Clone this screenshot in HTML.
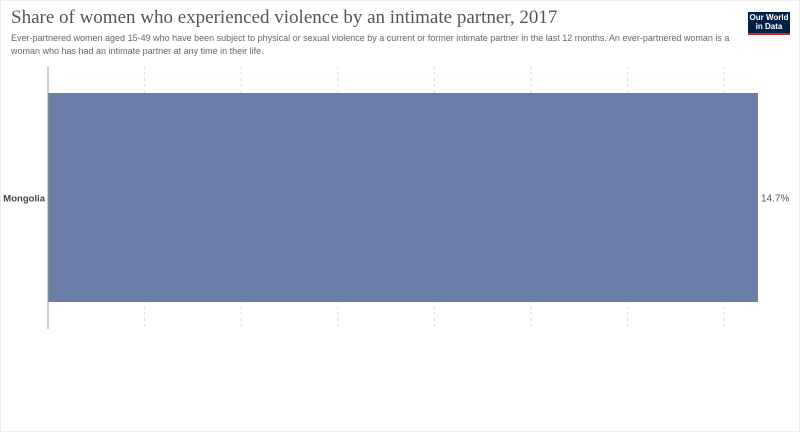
<!DOCTYPE html>
<html><head><meta charset="utf-8"><style>
body{margin:0;background:#fff;font-family:"Liberation Sans",sans-serif}
#wrap{position:relative;width:798px;height:430px;border:1px solid #eee;overflow:hidden}
h1{position:absolute;left:10px;top:6px;margin:0;font:400 19px "Liberation Serif",serif;color:#555}
p.sub{position:absolute;left:10px;top:31px;margin:0;white-space:nowrap;font-size:9px;line-height:13px;color:#666}
#logo{position:absolute;left:747px;top:11px;width:42px;height:20px;background:#002147;border-bottom:2px solid #ce261e;color:#fff;font-size:8px;font-weight:bold;text-align:center;line-height:9px;padding-top:1px}
</style></head><body>
<div id="wrap">
<h1>Share of women who experienced violence by an intimate partner, 2017</h1>
<p class="sub">Ever-partnered women aged 15-49 who have been subject to physical or sexual violence by a current or former intimate partner in the last 12 months. An ever-partnered woman is a<br>woman who has had an intimate partner at any time in their life.</p>
<div id="logo">Our World<br>in Data</div>
<svg id="chart" width="800" height="432" style="position:absolute;left:-1px;top:-1px"></svg>
</div>
<script>
const categories=["Mongolia"];
const values=[14.7];
const gridTicks=[2,4,6,8,10,12,14];
const NS="http://www.w3.org/2000/svg";
const svg=document.getElementById('chart');
const x0=48,pxPer=48.3,yTop=66,yBottom=329;
const xs=v=>x0+v*pxPer;
function mk(t,a){const e=document.createElementNS(NS,t);for(const k in a)e.setAttribute(k,a[k]);svg.appendChild(e);return e;}
gridTicks.forEach(t=>{
 const l=mk('line',{x1:xs(t),x2:xs(t),y1:yTop,y2:yBottom,stroke:'#ddd','stroke-dasharray':'3,3'});
 
 
});
const bandH=(yBottom-yTop)/categories.length;
categories.forEach((c,i)=>{
 const y=yTop+i*bandH+27,h=bandH-54;
 const r=mk('rect',{x:x0,y:y,width:xs(values[i])-x0,height:h,fill:'#6a7ea8'});
 
 
 const lb=mk('text',{x:x0-3,y:y+h/2+4,'text-anchor':'end','font-size':'9.5','font-weight':'bold',fill:'#444','font-family':'Liberation Sans, sans-serif'});
 lb.textContent=c;
 
 
 const vl=mk('text',{x:xs(values[i])+3,y:y+h/2+4,'font-size':'10',fill:'#555','font-family':'Liberation Sans, sans-serif'});
 vl.textContent=values[i]+'%';
 
 
});
const ax=mk('line',{x1:x0,x2:x0,y1:yTop,y2:yBottom,stroke:'#999'});


</script>
</body></html>
